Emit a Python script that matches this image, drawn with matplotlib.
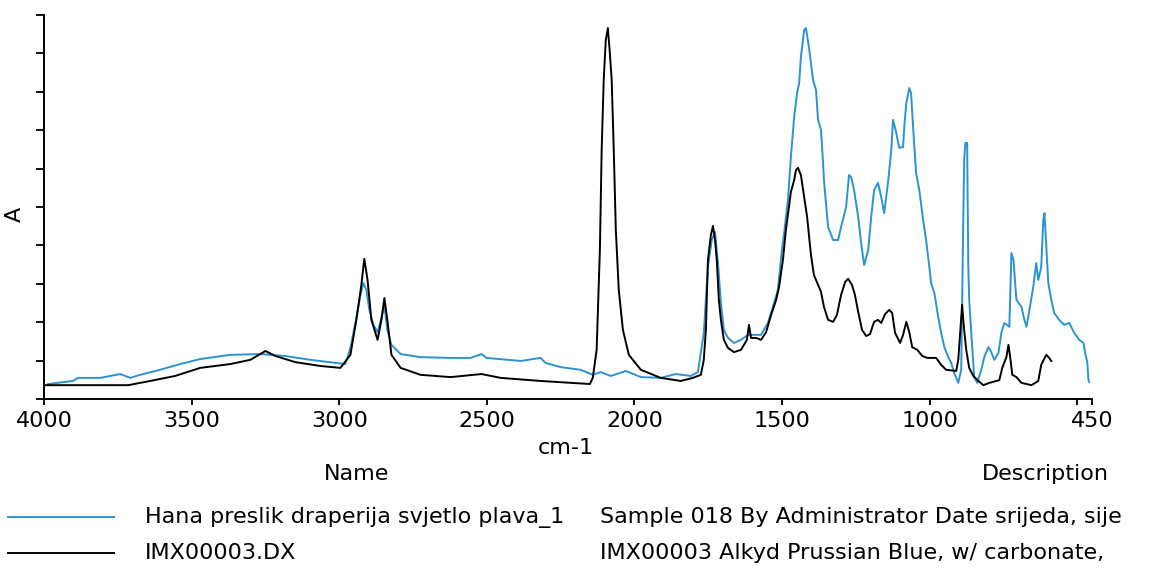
import matplotlib
matplotlib.use("Agg")
import matplotlib.pyplot as plt
from matplotlib.lines import Line2D

# ---- data (wavenumber cm-1, absorbance, arbitrary units) ----
black_wn = [4000, 3715, 3640, 3556, 3471, 3369, 3301, 3250, 3216, 3149, 3064, 2996,
            2962, 2942, 2925, 2915, 2904, 2891, 2870, 2857, 2847, 2837, 2823, 2792,
            2725, 2623, 2518, 2453, 2318, 2151, 2141, 2128, 2117, 2111, 2104, 2097,
            2090, 2084, 2077, 2070, 2063, 2053, 2039, 2019, 1978, 1911, 1843, 1802,
            1775, 1765, 1758, 1751, 1741, 1734, 1727, 1721, 1714, 1707, 1697, 1683,
            1663, 1639, 1619, 1612, 1605, 1588, 1571, 1554, 1537, 1520, 1510, 1497,
            1487, 1476, 1470, 1459, 1453, 1446, 1436, 1426, 1415, 1402, 1392, 1378,
            1368, 1358, 1344, 1327, 1314, 1300, 1286, 1276, 1263, 1253, 1242, 1229,
            1215, 1202, 1188, 1175, 1164, 1151, 1137, 1127, 1117, 1100, 1090, 1079,
            1069, 1059, 1042, 1025, 1008, 978, 961, 944, 910, 903, 896, 890, 883,
            876, 866, 852, 835, 818, 798, 764, 754, 740, 733, 726, 720, 706, 689,
            655, 632, 622, 605, 595, 588]
black_a = [0.036, 0.036, 0.047, 0.060, 0.081, 0.091, 0.102, 0.125, 0.112, 0.096, 0.086, 0.081,
           0.115, 0.206, 0.297, 0.365, 0.310, 0.206, 0.154, 0.206, 0.263, 0.206, 0.115, 0.081,
           0.063, 0.057, 0.065, 0.055, 0.047, 0.039, 0.055, 0.128, 0.388, 0.648, 0.831, 0.935,
           0.966, 0.909, 0.831, 0.648, 0.440, 0.284, 0.180, 0.115, 0.076, 0.055, 0.047, 0.055,
           0.063, 0.102, 0.180, 0.362, 0.427, 0.451, 0.414, 0.362, 0.258, 0.206, 0.154, 0.133,
           0.122, 0.128, 0.154, 0.193, 0.159, 0.159, 0.154, 0.174, 0.219, 0.258, 0.292, 0.362,
           0.440, 0.505, 0.539, 0.570, 0.596, 0.602, 0.583, 0.531, 0.474, 0.375, 0.323, 0.297,
           0.279, 0.240, 0.206, 0.201, 0.219, 0.271, 0.305, 0.313, 0.297, 0.271, 0.227, 0.180,
           0.164, 0.169, 0.201, 0.206, 0.198, 0.221, 0.232, 0.224, 0.172, 0.146, 0.167, 0.201,
           0.174, 0.135, 0.128, 0.112, 0.107, 0.107, 0.089, 0.076, 0.073, 0.102, 0.180, 0.245, 0.180,
           0.128, 0.081, 0.060, 0.047, 0.036, 0.042, 0.049, 0.081, 0.109, 0.141, 0.102, 0.063, 0.057, 0.042,
           0.036, 0.047, 0.089, 0.115, 0.107, 0.099]

blue_wn = [3986, 3902, 3885, 3810, 3742, 3708, 3674, 3607, 3539, 3471, 3369, 3267,
           3183, 3098, 3013, 2979, 2962, 2942, 2928, 2918, 2908, 2898, 2884, 2870,
           2857, 2847, 2837, 2823, 2792, 2725, 2623, 2555, 2518, 2501, 2385, 2318,
           2301, 2250, 2182, 2141, 2114, 2080, 2029, 1978, 1911, 1860, 1809, 1785,
           1765, 1751, 1738, 1727, 1717, 1707, 1697, 1683, 1663, 1639, 1615, 1571,
           1548, 1531, 1514, 1503, 1493, 1480, 1470, 1459, 1449, 1442, 1436, 1425,
           1419, 1409, 1395, 1385, 1378, 1368, 1361, 1358, 1344, 1327, 1310, 1300,
           1283, 1273, 1266, 1256, 1242, 1232, 1222, 1208, 1198, 1188, 1175, 1164,
           1154, 1140, 1130, 1124, 1113, 1103, 1090, 1086, 1079, 1069, 1063, 1056,
           1046, 1035, 1022, 1012, 1001, 995, 984, 971, 961, 950, 937, 927, 917,
           903, 893, 886, 883, 879, 873, 869, 866, 859, 849, 839, 825, 815, 801,
           791, 781, 767, 757, 747, 730, 723, 716, 706, 689, 679, 672, 662, 649,
           639, 632, 622, 615, 611, 598, 588, 578, 561, 544, 527, 510, 493, 479,
           472, 466, 462, 459]
blue_a = [0.039, 0.047, 0.055, 0.055, 0.065, 0.055, 0.063, 0.076, 0.091, 0.104, 0.115, 0.117,
          0.112, 0.102, 0.094, 0.091, 0.133, 0.211, 0.271, 0.302, 0.284, 0.232, 0.193, 0.174,
          0.211, 0.245, 0.180, 0.141, 0.117, 0.109, 0.107, 0.107, 0.117, 0.107, 0.099, 0.107,
          0.094, 0.083, 0.076, 0.063, 0.070, 0.060, 0.073, 0.057, 0.055, 0.065, 0.060, 0.070,
          0.172, 0.344, 0.414, 0.435, 0.354, 0.250, 0.180, 0.159, 0.146, 0.154, 0.167, 0.167,
          0.198, 0.240, 0.284, 0.370, 0.432, 0.518, 0.630, 0.734, 0.797, 0.823, 0.891, 0.961,
          0.966, 0.917, 0.831, 0.805, 0.727, 0.701, 0.615, 0.570, 0.448, 0.414, 0.414, 0.448,
          0.500, 0.583, 0.578, 0.544, 0.474, 0.406, 0.349, 0.388, 0.474, 0.544, 0.563, 0.526,
          0.484, 0.570, 0.648, 0.727, 0.693, 0.654, 0.656, 0.708, 0.771, 0.810, 0.797, 0.708,
          0.589, 0.544, 0.466, 0.414, 0.344, 0.302, 0.276, 0.214, 0.172, 0.135, 0.109, 0.094, 0.068,
          0.042, 0.076, 0.474, 0.622, 0.667, 0.667, 0.344, 0.258, 0.172, 0.057, 0.042, 0.076, 0.109, 0.135,
          0.122, 0.102, 0.120, 0.172, 0.198, 0.188, 0.380, 0.362, 0.258, 0.240, 0.206, 0.188, 0.232, 0.292,
          0.354, 0.310, 0.344, 0.466, 0.484, 0.302, 0.258, 0.224, 0.206, 0.193, 0.198, 0.172, 0.154, 0.146,
          0.115, 0.096, 0.049, 0.044]

x_ticks = [4000, 3500, 3000, 2500, 2000, 1500, 1000, 500, 450]
x_tick_labels = ["4000", "3500", "3000", "2500", "2000", "1500", "1000", "", "450"]
y_ticks = [0.0, 0.1, 0.2, 0.3, 0.4, 0.5, 0.6, 0.7, 0.8, 0.9, 1.0]

series_names = ["Hana preslik draperija svjetlo plava_1", "IMX00003.DX"]
series_desc = ["Sample 018 By Administrator Date srijeda, sije",
               "IMX00003 Alkyd Prussian Blue, w/ carbonate,"]
series_colors = ["#2b93d1", "#000000"]

# ---- figure ----
W, H = 1151, 569
plt.rcParams['font.family'] = ['DejaVu Sans']
fig = plt.figure(figsize=(W / 100, H / 100), dpi=100)
FS = 16

ax = fig.add_axes([44 / W, 1 - 399 / H, (1092 - 44) / W, (399 - 15) / H])
ax.plot(blue_wn, blue_a, color=series_colors[0], lw=1.4)
ax.plot(black_wn, black_a, color=series_colors[1], lw=1.4)

ax.set_xlim(4000, 450)
ax.set_ylim(0, 1.0)
ax.set_xticks(x_ticks)
ax.set_xticklabels(x_tick_labels, fontsize=FS)
ax.set_yticks(y_ticks)
ax.set_yticklabels([])
ax.tick_params(axis='x', direction='out', length=4.5, width=1.3, pad=4, colors='black')
ax.tick_params(axis='y', direction='out', length=5.8, width=1.3)
for s in ['top', 'right']:
    ax.spines[s].set_visible(False)
for s in ['left', 'bottom']:
    ax.spines[s].set_linewidth(1.4)
ax.set_ylabel("A", fontsize=FS)
ax.yaxis.set_label_coords(-0.018, 0.48)
ax.set_xlabel("cm-1", fontsize=FS)
ax.xaxis.set_label_coords(0.498, -0.102)

# ---- legend table ----
fig.text(357 / W, 1 - 474 / H, "Name", fontsize=FS, ha='center', va='center')
fig.text(1045 / W, 1 - 474 / H, "Description", fontsize=FS, ha='center', va='center')
row_y = [517, 553]
for i in range(2):
    yy = 1 - row_y[i] / H
    fig.add_artist(Line2D([8 / W, 114 / W], [yy, yy], transform=fig.transFigure,
                          color=series_colors[i], lw=1.4))
    fig.text(145 / W, yy, series_names[i], fontsize=FS, ha='left', va='center')
    fig.text(600 / W, yy, series_desc[i], fontsize=FS, ha='left', va='center')

fig.savefig("out.png", dpi=100)
